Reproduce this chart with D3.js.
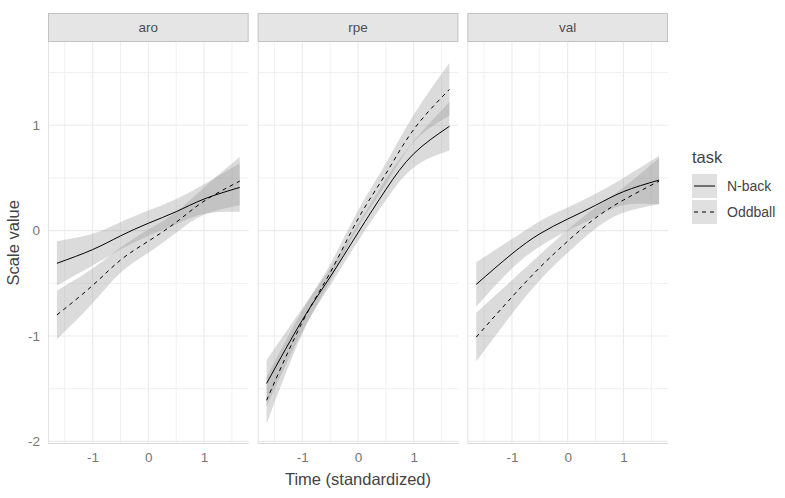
<!DOCTYPE html>
<html>
<head>
<meta charset="utf-8">
<script src="https://cdn.jsdelivr.net/npm/d3@7"></script>
<style>
  body { margin: 0; background: #fff; }
  text { font-family: "Liberation Sans", Arial, sans-serif; }
</style>
</head>
<body>
<svg id="chart" width="785" height="498"></svg>
<script>
// values
const timeX = [-1.64, -1, -0.5, 0, 0.5, 1, 1.64];
const facets = ["aro", "rpe", "val"];
const tasks = ["N-back", "Oddball"];
const xTicks = [-1, 0, 1];
const yTicks = [-2, -1, 0, 1];

const aroNback   = [-0.31, -0.18, -0.05, 0.07, 0.18, 0.30, 0.41];
const aroNbackLo = [-0.52, -0.33, -0.18, -0.05, 0.06, 0.16, 0.18];
const aroNbackHi = [-0.10, -0.03, 0.08, 0.19, 0.30, 0.44, 0.64];
const aroOdd     = [-0.80, -0.52, -0.28, -0.10, 0.08, 0.28, 0.47];
const aroOddLo   = [-1.03, -0.69, -0.40, -0.21, -0.02, 0.15, 0.24];
const aroOddHi   = [-0.57, -0.36, -0.16, 0.01, 0.18, 0.41, 0.70];

const rpeNback   = [-1.45, -0.85, -0.44, -0.02, 0.39, 0.73, 0.99];
const rpeNbackLo = [-1.67, -0.96, -0.52, -0.10, 0.29, 0.60, 0.76];
const rpeNbackHi = [-1.23, -0.74, -0.36, 0.06, 0.49, 0.85, 1.22];
const rpeOdd     = [-1.61, -0.87, -0.40, 0.11, 0.54, 0.96, 1.34];
const rpeOddLo   = [-1.83, -0.98, -0.48, 0.03, 0.44, 0.84, 1.09];
const rpeOddHi   = [-1.39, -0.76, -0.32, 0.19, 0.64, 1.10, 1.59];

const valNback   = [-0.51, -0.22, -0.03, 0.11, 0.24, 0.37, 0.48];
const valNbackLo = [-0.72, -0.36, -0.15, 0.00, 0.13, 0.24, 0.25];
const valNbackHi = [-0.30, -0.08, 0.09, 0.22, 0.35, 0.50, 0.71];
const valOdd     = [-1.01, -0.63, -0.35, -0.10, 0.12, 0.29, 0.47];
const valOddLo   = [-1.24, -0.79, -0.47, -0.21, 0.02, 0.17, 0.25];
const valOddHi   = [-0.78, -0.47, -0.23, 0.01, 0.22, 0.41, 0.69];

const series = {
  aro: [[aroNback, aroNbackLo, aroNbackHi], [aroOdd, aroOddLo, aroOddHi]],
  rpe: [[rpeNback, rpeNbackLo, rpeNbackHi], [rpeOdd, rpeOddLo, rpeOddHi]],
  val: [[valNback, valNbackLo, valNbackHi], [valOdd, valOddLo, valOddHi]]
};

const svg = d3.select("#chart");
const pLeft = 48, pRight = 668, gap = 9;
const pTop = 42, pBottom = 443.5;
const pw = (pRight - pLeft - 2 * gap) / 3;
const dashes = [null, "4,4"];
const hyphen = d => String(d);   // ggplot prints plain hyphen-minus

let y = d3.scaleLinear().domain([-2.02, 1.79]).range([pBottom, pTop]);

facets.forEach(function (f, i) {
    let x0 = pLeft + i * (pw + gap);
    let x = d3.scaleLinear().domain([-1.80, 1.80]).range([x0, x0 + pw]);
    let g = svg.append("g");

    // strip
    g.append("rect").attr("x", x0 + 0.5).attr("y", 13.5)
        .attr("width", pw - 1).attr("height", 28)
        .attr("fill", "#e5e5e5").attr("stroke", "#c2c2c2");
    g.append("text").attr("x", x0 + pw / 2).attr("y", 32)
        .attr("text-anchor", "middle").attr("font-size", 13.5)
        .attr("fill", "#4d4d4d").text(f);

    // grid
    let minorX = [-1.5, -0.5, 0.5, 1.5], minorY = [-1.5, -0.5, 0.5, 1.5];
    g.selectAll(".gxm").data(minorX).enter().append("line")
        .attr("x1", d => x(d)).attr("x2", d => x(d)).attr("y1", pTop).attr("y2", pBottom)
        .attr("stroke", "#eeeeee").attr("stroke-width", 0.9);
    g.selectAll(".gym").data(minorY).enter().append("line")
        .attr("x1", x0).attr("x2", x0 + pw).attr("y1", d => y(d)).attr("y2", d => y(d))
        .attr("stroke", "#eeeeee").attr("stroke-width", 0.9);
    g.selectAll(".gx").data(xTicks).enter().append("line")
        .attr("x1", d => x(d)).attr("x2", d => x(d)).attr("y1", pTop).attr("y2", pBottom)
        .attr("stroke", "#ebebeb").attr("stroke-width", 1.1);
    g.selectAll(".gy").data(yTicks).enter().append("line")
        .attr("x1", x0).attr("x2", x0 + pw).attr("y1", d => y(d)).attr("y2", d => y(d))
        .attr("stroke", "#ebebeb").attr("stroke-width", 1.1);

    // ribbons then lines
    let area = d3.area().x((d, k) => x(timeX[k])).y0(d => y(d[0])).y1(d => y(d[1]))
        .curve(d3.curveNatural);
    let line = d3.line().x((d, k) => x(timeX[k])).y(d => y(d)).curve(d3.curveNatural);

    series[f].forEach(function (s) {
        let band = s[1].map((lo, k) => [lo, s[2][k]]);
        g.append("path").attr("d", area(band))
            .attr("fill", "#999999").attr("fill-opacity", 0.35);
    });
    series[f].forEach(function (s, t) {
        g.append("path").attr("d", line(s[0]))
            .attr("fill", "none").attr("stroke", "#000")
            .attr("stroke-width", 1).attr("stroke-dasharray", dashes[t]);
    });

    // axis lines
    g.append("line").attr("x1", x0).attr("x2", x0 + pw).attr("y1", pBottom).attr("y2", pBottom)
        .attr("stroke", "#d9d9d9").attr("stroke-width", 1);
    g.append("line").attr("x1", x0 + 0.5).attr("x2", x0 + 0.5).attr("y1", pTop).attr("y2", pBottom)
        .attr("stroke", "#e3e3e3").attr("stroke-width", 1);

    // x tick labels
    let xa = d3.axisBottom(x).tickValues(xTicks).tickSize(0).tickPadding(9).tickFormat(hyphen);
    let ax = g.append("g").attr("transform", "translate(0," + pBottom + ")").call(xa);
    ax.select(".domain").remove();
    ax.selectAll("text").attr("font-size", 13.5).attr("fill", "#777")
        .attr("font-family", "Liberation Sans, Arial, sans-serif");
});

// y tick labels
let ya = d3.axisLeft(y).tickValues(yTicks).tickSize(0).tickPadding(8).tickFormat(hyphen);
let ay = svg.append("g").attr("transform", "translate(" + pLeft + ",0)").call(ya);
ay.select(".domain").remove();
ay.selectAll("text").attr("font-size", 13.5).attr("fill", "#777")
    .attr("font-family", "Liberation Sans, Arial, sans-serif");

// titles
svg.append("text").attr("x", (pLeft + pRight) / 2).attr("y", 485)
    .attr("text-anchor", "middle").attr("font-size", 16.5).attr("fill", "#444")
    .text("Time (standardized)");
svg.append("text").attr("transform", "translate(19," + (pTop + pBottom) / 2 + ") rotate(-90)")
    .attr("text-anchor", "middle").attr("font-size", 16.5).attr("fill", "#444")
    .text("Scale value");

// legend
let lg = svg.append("g").attr("transform", "translate(692,0)");
lg.append("text").attr("x", 0).attr("y", 163).attr("font-size", 16.5).attr("fill", "#444").text("task");
tasks.forEach(function (t, i) {
    let ky = 174 + i * 26;
    lg.append("rect").attr("x", 0).attr("y", ky).attr("width", 25).attr("height", 24)
        .attr("fill", "#999999").attr("fill-opacity", 0.3);
    lg.append("line").attr("x1", 2).attr("x2", 23).attr("y1", ky + 12).attr("y2", ky + 12)
        .attr("stroke", "#000").attr("stroke-width", 1).attr("stroke-dasharray", dashes[i]);
    lg.append("text").attr("x", 35).attr("y", ky + 17).attr("font-size", 14)
        .attr("fill", "#444").text(t);
});
</script>
</body>
</html>
